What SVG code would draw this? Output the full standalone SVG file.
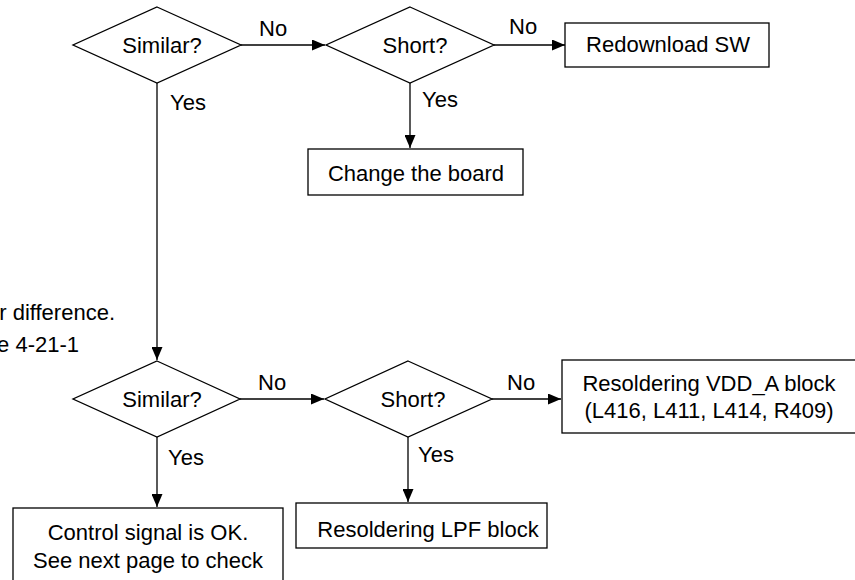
<svg xmlns="http://www.w3.org/2000/svg" width="855" height="580" viewBox="0 0 855 580">
  <defs>
    <marker id="arrow" viewBox="0 0 13 11" refX="13" refY="5.5" markerWidth="13" markerHeight="11" markerUnits="userSpaceOnUse" orient="auto">
      <path d="M0,0 L13,5.5 L0,11 Z" fill="#000"/>
    </marker>
    <style>
      .shape { fill: #fff; stroke: #000; stroke-width: 1.3; }
      .link { fill: none; stroke: #000; stroke-width: 1.3; marker-end: url(#arrow); }
      text { font-family: "Liberation Sans", Arial, Helvetica, sans-serif; font-size: 22px; fill: #000; }
      .c { text-anchor: middle; }
      .e { text-anchor: end; }
    </style>
  </defs>
  <rect width="855" height="580" fill="#fff"/>

  <!-- side note, running in from the left edge -->
  <g id="note">
    <text class="e" x="115" y="320">r difference.</text>
    <text class="e" x="79" y="352">e 4-21-1</text>
  </g>

  <g id="connectors">
    <line class="link" x1="241" y1="45" x2="325" y2="45"/>
    <line class="link" x1="494" y1="45" x2="565" y2="45"/>
    <line class="link" x1="410" y1="83" x2="410" y2="148"/>
    <line class="link" x1="157" y1="83" x2="157" y2="360"/>
    <line class="link" x1="240" y1="399" x2="324" y2="399"/>
    <line class="link" x1="492" y1="399" x2="561" y2="399"/>
    <line class="link" x1="157" y1="437" x2="157" y2="507"/>
    <line class="link" x1="408" y1="437" x2="408" y2="502"/>
    <text x="259" y="36">No</text>
    <text x="509" y="34">No</text>
    <text x="170" y="110">Yes</text>
    <text x="422" y="107">Yes</text>
    <text x="258" y="390">No</text>
    <text x="507" y="390">No</text>
    <text x="168" y="465">Yes</text>
    <text x="418" y="462">Yes</text>
  </g>

  <g id="similar1">
    <polygon class="shape" points="157,7 241,45 157,83 73,45"/>
    <text class="c" x="162" y="53">Similar?</text>
  </g>
  <g id="short1">
    <polygon class="shape" points="410,7 494,45 410,83 326,45"/>
    <text class="c" x="415" y="53">Short?</text>
  </g>
  <g id="redownload">
    <rect class="shape" x="565" y="23" width="204" height="44"/>
    <text class="c" x="668" y="52">Redownload SW</text>
  </g>
  <g id="change-board">
    <rect class="shape" x="308" y="149" width="215" height="46"/>
    <text class="c" x="416" y="181">Change the board</text>
  </g>

  <g id="similar2">
    <polygon class="shape" points="157,361 240,399 157,437 73,399"/>
    <text class="c" x="162" y="407">Similar?</text>
  </g>
  <g id="short2">
    <polygon class="shape" points="408,361 492,399 408,437 325,399"/>
    <text class="c" x="413" y="407">Short?</text>
  </g>
  <g id="resolder-vdd">
    <rect class="shape" x="562" y="360" width="300" height="73"/>
    <text class="c" x="709" y="391">Resoldering VDD_A block</text>
    <text class="c" x="709" y="418">(L416, L411, L414, R409)</text>
  </g>
  <g id="resolder-lpf">
    <rect class="shape" x="296" y="503" width="251" height="45"/>
    <text class="c" x="428" y="537">Resoldering LPF block</text>
  </g>
  <g id="control-ok">
    <rect class="shape" x="13" y="508" width="270" height="80"/>
    <text class="c" x="148" y="540">Control signal is OK.</text>
    <text class="c" x="148" y="568">See next page to check</text>
  </g>
</svg>
